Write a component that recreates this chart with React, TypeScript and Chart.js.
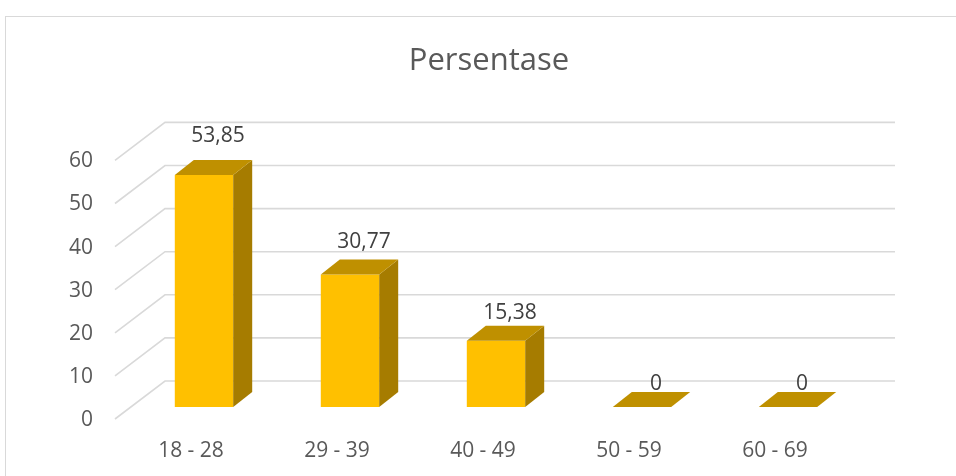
import { useEffect, useRef } from "react";
import { Chart, registerables } from "chart.js";

Chart.register(...registerables);

const title = "Persentase";
const categories = ["18 - 28", "29 - 39", "40 - 49", "50 - 59", "60 - 69"];
const values = [53.85, 30.77, 15.38, 0, 0];
const yTicks = [0, 10, 20, 30, 40, 50, 60];

const FONT = "'Open Sans', 'Noto Sans', sans-serif";
const FRONT = "#FFC000";
const TOP = "#BF9000";
const SIDE = "#A67C00";
const GRID = "#d9d9d9";
const DEPTH_X = 19;
const DEPTH_Y = -15;
const WALL_X = 34;
const WALL_Y = -26;
const FLOOR_X = -16;
const FLOOR_Y = 12;

const fmt = (v: number) => String(v).replace(".", ",");

const threeD = {
  id: "threeD",
  beforeDatasetsDraw(chart: any) {
    const { ctx, chartArea, scales } = chart;
    const y = scales.y;
    ctx.save();
    ctx.strokeStyle = GRID;
    ctx.lineWidth = 1.6;
    y.ticks.forEach((t: any) => {
      const py = y.getPixelForValue(t.value);
      ctx.beginPath();
      ctx.moveTo(chartArea.left + FLOOR_X, py + FLOOR_Y);
      ctx.lineTo(chartArea.left + WALL_X, py + WALL_Y);
      ctx.lineTo(chartArea.right + WALL_X, py + WALL_Y);
      ctx.stroke();
    });
    ctx.restore();
  },
  afterDatasetsDraw(chart: any) {
    const { ctx } = chart;
    const meta = chart.getDatasetMeta(0);
    ctx.save();
    meta.data.forEach((bar: any, i: number) => {
      const { x, y, base, width } = bar.getProps(["x", "y", "base", "width"], true);
      const l = x - width / 2;
      const r = x + width / 2;
      ctx.fillStyle = SIDE;
      ctx.beginPath();
      ctx.moveTo(r, y);
      ctx.lineTo(r + DEPTH_X, y + DEPTH_Y);
      ctx.lineTo(r + DEPTH_X, base + DEPTH_Y);
      ctx.lineTo(r, base);
      ctx.closePath();
      ctx.fill();
      ctx.fillStyle = TOP;
      ctx.beginPath();
      ctx.moveTo(l, y);
      ctx.lineTo(l + DEPTH_X, y + DEPTH_Y);
      ctx.lineTo(r + DEPTH_X, y + DEPTH_Y);
      ctx.lineTo(r, y);
      ctx.closePath();
      ctx.fill();
      ctx.fillStyle = "#404040";
      ctx.font = `21px ${FONT}`;
      ctx.textAlign = "center";
      ctx.textBaseline = "middle";
      const ly = y - 23 - (base - y) * 0.07;
      ctx.fillText(fmt(values[i]), x + 14, ly);
    });
    // title
    ctx.fillStyle = "#595959";
    ctx.font = `31px ${FONT}`;
    ctx.textAlign = "center";
    ctx.textBaseline = "middle";
    ctx.fillText(title, chart.width / 2, 44);
    ctx.restore();
  },
};

export default function App() {
  const ref = useRef<HTMLCanvasElement | null>(null);
  useEffect(() => {
    if (!ref.current) return;
    const chart = new Chart(ref.current, {
      type: "bar",
      data: {
        labels: categories,
        datasets: [
          {
            data: values,
            backgroundColor: FRONT,
            borderWidth: 0,
            categoryPercentage: 1,
            barPercentage: 0.4,
          },
        ],
      },
      options: {
        animation: false,
        responsive: false,
        devicePixelRatio: 1,
        layout: { padding: { left: 0, right: 111, top: 131.4, bottom: 0 } },
        plugins: {
          legend: { display: false },
          tooltip: { enabled: false },
          title: { display: false },
        },
        scales: {
          x: {
            grid: { display: false, drawTicks: false },
            border: { display: false },
            ticks: {
              color: "#595959",
              font: { family: FONT, size: 21 },
              padding: 31,
              labelOffset: -13,
            },
            afterFit: (s: any) => {
              s.height = 88;
            },
          },
          y: {
            min: 0,
            max: 60,
            grid: { display: false, drawTicks: false },
            border: { display: false },
            afterBuildTicks: (s: any) => {
              s.ticks = yTicks.map((v) => ({ value: v }));
            },
            ticks: {
              color: "#595959",
              font: { family: FONT, size: 21 },
              padding: 38,
              labelOffset: 13,
            },
            afterFit: (s: any) => {
              s.width = 125;
            },
          },
        },
      },
      plugins: [threeD],
    });
    return () => chart.destroy();
  }, []);

  return (
    <div
      style={{
        position: "fixed",
        left: 0,
        top: 0,
        width: 956,
        height: 476,
        overflow: "hidden",
        background: "#fff",
      }}
    >
      <div
        style={{
          position: "absolute",
          left: 5,
          top: 16,
          width: 968,
          height: 480,
          border: "1px solid #d9d9d9",
          boxSizing: "border-box",
        }}
      >
        <canvas ref={ref} width={966} height={478} style={{ display: "block" }} />
      </div>
    </div>
  );
}
